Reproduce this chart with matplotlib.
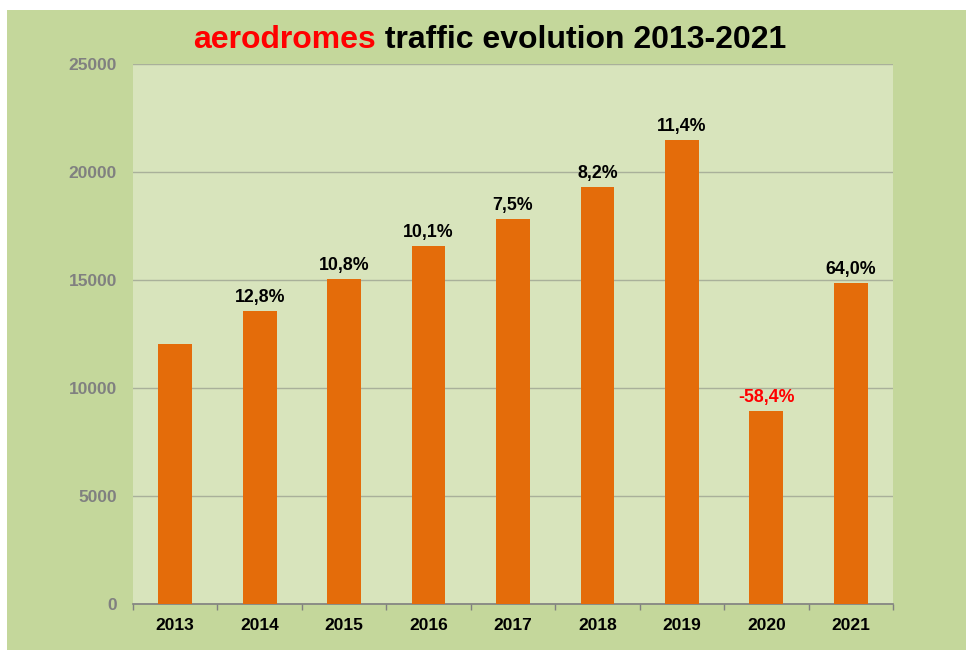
import matplotlib
matplotlib.use('Agg')
import matplotlib.pyplot as plt
import numpy as np
from matplotlib.patches import Rectangle

plt.rcParams['font.family'] = ['Liberation Sans', 'DejaVu Sans']

years = ['2013', '2014', '2015', '2016', '2017', '2018', '2019', '2020', '2021']
traffic = [12040, 13570, 15050, 16570, 17820, 19290, 21480, 8940, 14850]
growth = ['', '12,8%', '10,8%', '10,1%', '7,5%', '8,2%', '11,4%', '-58,4%', '64,0%']

fig = plt.figure(figsize=(9.66, 6.5), dpi=100)
fig.patch.set_facecolor('white')
# green frame behind the chart
fig.patches.append(Rectangle((7/966, 0), 1 - 7/966, 640/650, transform=fig.transFigure,
                             facecolor='#c4d79b', edgecolor='none', zorder=-5))

ax = fig.add_axes([133/966, 46/650, 760/966, 540/650])
ax.set_facecolor('#d8e4bc')

x = np.arange(len(years))
ax.bar(x, traffic, width=0.4, color='#e46c0a', zorder=3)

for xi, v, g in zip(x, traffic, growth):
    if g:
        ax.annotate(g, (xi, v), xytext=(0, 6.5), textcoords='offset points',
                    ha='center', va='baseline', fontsize=12.8, fontweight='bold',
                    color='#ff0000' if g.startswith('-') else 'black')

ax.set_xlim(-0.5, len(years) - 0.5)
ax.set_ylim(0, 25000)
ax.set_yticks(np.arange(0, 25001, 5000))
ax.yaxis.grid(True, color='#a9b09a', linewidth=1, zorder=1)
ax.tick_params(axis='y', length=0, pad=11.5, labelsize=12.5, labelcolor='#808080')
for lab in ax.get_yticklabels():
    lab.set_fontweight('bold')

ax.set_xticks(x)
ax.set_xticklabels(years, fontsize=12.5, fontweight='bold')
ax.set_xticks(np.arange(-0.5, len(years), 1), minor=True)
ax.tick_params(axis='x', which='major', length=0, pad=10)
ax.tick_params(axis='x', which='minor', length=4, color='#808080', width=1)

for s in ['top', 'left', 'right']:
    ax.spines[s].set_visible(False)
ax.spines['bottom'].set_color('#808080')
ax.spines['bottom'].set_linewidth(1.2)

# two-colour title
t1 = fig.text(193/966, (650 - 48)/650, 'aerodromes', color='#ff0000', fontsize=23,
              fontweight='bold', ha='left', va='baseline')
ax.annotate(' traffic evolution 2013-2021', xy=(1, 0), xycoords=t1, fontsize=23,
            fontweight='bold', color='black', ha='left', va='bottom',
            annotation_clip=False)

plt.savefig('out.png', dpi=100)
